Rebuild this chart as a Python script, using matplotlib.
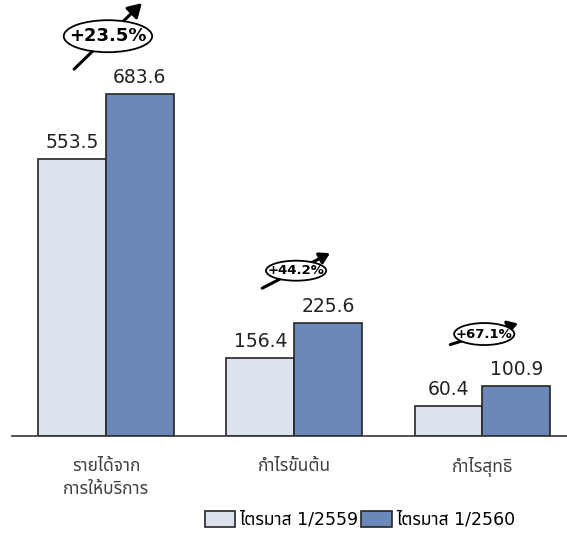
import matplotlib
matplotlib.use("Agg")
import matplotlib.pyplot as plt
from matplotlib.patches import Ellipse, Patch
import numpy as np

categories = ["รายได้จาก\nการให้บริการ", "กำไรขั้นต้น", "กำไรสุทธิ"]
series_names = ["ไตรมาส 1/2559", "ไตรมาส 1/2560"]
q1_2559 = [553.5, 156.4, 60.4]
q1_2560 = [683.6, 225.6, 100.9]
growth_labels = ["+23.5%", "+44.2%", "+67.1%"]

FAM = ["DejaVu Sans", "Noto Sans Thai"]
THAI = ["Noto Sans Thai", "DejaVu Sans"]
light = "#dde3ee"
dark = "#6a89b8"
edge = "#262626"

fig = plt.figure(figsize=(5.67, 5.35), dpi=100)
ax = fig.add_axes([12/567, 99/535, 555/567, 436/535])
x = np.arange(len(categories))
w = 0.36
b1 = ax.bar(x - w/2, q1_2559, w, color=light, edgecolor=edge, linewidth=1.2, label=series_names[0], zorder=2)
b2 = ax.bar(x + w/2, q1_2560, w, color=dark, edgecolor=edge, linewidth=1.2, label=series_names[1], zorder=2)

for bars, vals in ((b1, q1_2559), (b2, q1_2560)):
    for r, v in zip(bars, vals):
        ax.annotate(f"{v:.1f}", (r.get_x() + r.get_width()/2, v), xytext=(0, 5),
                    textcoords="offset points", ha="center", va="bottom",
                    fontsize=13.5, color="#222222", family=FAM)

ax.set_xlim(-0.5, 2.45)
ax.set_ylim(0, 872)
for s in ("left", "right", "top"):
    ax.spines[s].set_visible(False)
ax.spines["bottom"].set_color("#333333")
ax.spines["bottom"].set_linewidth(1.2)
ax.set_yticks([])
ax.set_xticks(x)
ax.set_xticklabels(categories, family=THAI, fontsize=12.5, color="#404040", linespacing=1.35)
ax.tick_params(axis="x", length=0, pad=15)

# growth badges
offsets = [116, 105, 103]
ell_w = [0.47, 0.32, 0.32]
ell_h = [64, 40, 44]
arr_dy = [66, 35, 21]
fsz = [13, 9.5, 9.5]
for i in range(len(categories)):
    cx = x[i] + 0.01
    cy = q1_2560[i] + offsets[i]
    ax.annotate("", xy=(cx + 0.18, cy + arr_dy[i]), xytext=(cx - 0.18, cy - arr_dy[i]),
                arrowprops=dict(arrowstyle="-|>,head_length=0.5,head_width=0.3", lw=2.2, color="black",
                                mutation_scale=16 if i == 0 else 12,
                                shrinkA=0, shrinkB=0), zorder=3, annotation_clip=False)
    ax.add_patch(Ellipse((cx, cy), ell_w[i], ell_h[i], facecolor="white",
                         edgecolor="black", linewidth=1.3, zorder=4, clip_on=False))
    ax.text(cx, cy, growth_labels[i], ha="center", va="center", fontsize=fsz[i],
            fontweight="bold", family=FAM, zorder=5, color="black")

handles = [Patch(facecolor=light, edgecolor=edge, linewidth=1.2),
           Patch(facecolor=dark, edgecolor=edge, linewidth=1.2)]
fig.legend(handles, series_names, loc="center", bbox_to_anchor=(360/567, 1 - 520/535),
           ncol=2, frameon=False, prop=dict(family=FAM, size=12.5),
           handlelength=1.75, handleheight=1.0, handletextpad=0.25, columnspacing=0.15,
           borderpad=0)

fig.savefig("out.png", dpi=100)
